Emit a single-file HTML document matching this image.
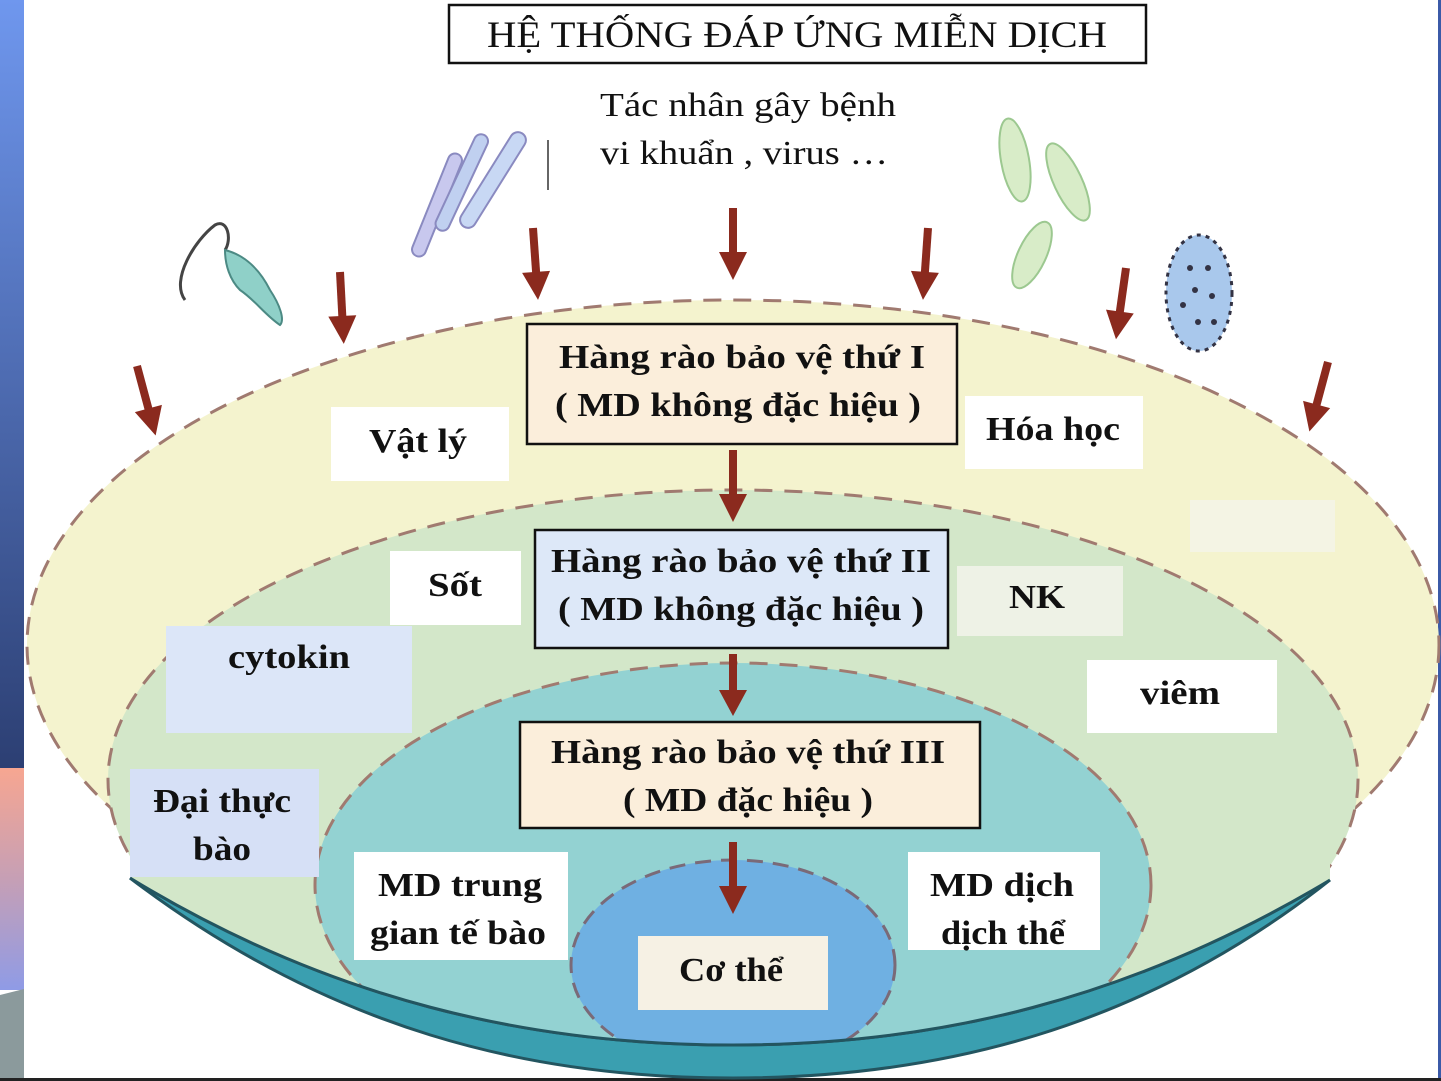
<!DOCTYPE html>
<html><head><meta charset="utf-8"><style>
html,body{margin:0;padding:0;background:#fff;}
svg{display:block;}
text{font-family:"Liberation Serif",serif;fill:#111;}
.b{font-weight:bold;font-size:34px;}
</style></head><body>
<svg width="1441" height="1081" viewBox="0 0 1441 1081" xmlns="http://www.w3.org/2000/svg">
<defs>
<linearGradient id="lb" x1="0" y1="0" x2="0" y2="1"><stop offset="0" stop-color="#6f97ee"/><stop offset="1" stop-color="#2c3f73"/></linearGradient>
<linearGradient id="lp" x1="0" y1="0" x2="0" y2="1"><stop offset="0" stop-color="#f7a691"/><stop offset="0.5" stop-color="#c69fb5"/><stop offset="1" stop-color="#8f9be6"/></linearGradient>
<clipPath id="dish"><path d="M0,0 H1441 V880 H1330 C1130,1000 936,1045 733,1045 C530,1045 330,1000 130,878 H0 Z"/></clipPath>
<g id="ar60"><rect x="-4" y="0" width="8" height="40" fill="#8b2a1e"/><polygon points="-14,36 14,36 0,62" fill="#8b2a1e"/></g>
<g id="ar70"><rect x="-4" y="0" width="8" height="48" fill="#8b2a1e"/><polygon points="-14,44 14,44 0,72" fill="#8b2a1e"/></g>
</defs>
<rect x="0" y="0" width="1441" height="1081" fill="#fff"/>
<rect x="0" y="0" width="24" height="768" fill="url(#lb)"/>
<rect x="0" y="768" width="24" height="222" fill="url(#lp)"/>
<path d="M0,995 L24,989 V1081 H0 Z" fill="#8b9a9c"/>
<rect x="1438" y="0" width="3" height="1081" fill="#3b5aa8"/>
<rect x="0" y="1078" width="1441" height="3" fill="#222"/>

<path d="M130,878 C330,1030 530,1078 733,1078 C936,1078 1140,1030 1330,880 C1130,1000 936,1045 733,1045 C530,1045 330,1000 130,878 Z" fill="#3a9fb0" stroke="#235560" stroke-width="3"/>

<g clip-path="url(#dish)">
<ellipse cx="733" cy="645" rx="706" ry="345" fill="#f4f3ce" stroke="#a07a70" stroke-width="3" stroke-dasharray="18,12"/>
<ellipse cx="733" cy="780" rx="625" ry="290" fill="#d3e7c9" stroke="#a07a70" stroke-width="3" stroke-dasharray="18,12"/>
<rect x="132" y="800" width="1198" height="280" fill="#d3e7c9"/>
<ellipse cx="733" cy="885" rx="418" ry="222" fill="#93d2d2" stroke="#a07a70" stroke-width="3" stroke-dasharray="18,12"/>
<ellipse cx="733" cy="965" rx="162" ry="105" fill="#6fb0e2" stroke="#7a6a78" stroke-width="3" stroke-dasharray="16,10"/>
</g>
<path d="M130,878 C330,1000 530,1045 733,1045 C936,1045 1130,1000 1330,880" fill="none" stroke="#235560" stroke-width="3"/>
<rect x="1190" y="500" width="145" height="52" fill="#f4f4e4"/>

<rect x="449" y="5" width="697" height="58" fill="#fff" stroke="#111" stroke-width="2.5"/>
<text x="797" y="47" font-size="37" text-anchor="middle" textLength="620" lengthAdjust="spacingAndGlyphs">HỆ THỐNG ĐÁP ỨNG MIỄN DỊCH</text>
<text x="600" y="116" font-size="34" textLength="296" lengthAdjust="spacingAndGlyphs" fill="#2a1a3a">Tác nhân gây bệnh</text>
<text x="600" y="164" font-size="34" textLength="288" lengthAdjust="spacingAndGlyphs" fill="#2a1a3a">vi khuẩn , virus …</text>

<path d="M185,300 C170,280 195,240 215,225 C228,218 232,240 225,250" fill="none" stroke="#444" stroke-width="3"/>
<path d="M225,250 C245,255 260,270 270,290 C280,305 285,320 280,325 C265,315 255,300 240,290 C230,280 225,265 225,250 Z" fill="#8fd0c8" stroke="#4c8a84" stroke-width="2"/>
<g fill="#c8c8ee" stroke="#8a8ac0" stroke-width="2">
<rect x="430" y="150" width="14" height="110" rx="7" transform="rotate(22 437 205)"/>
<rect x="455" y="130" width="14" height="105" rx="7" transform="rotate(25 462 182)" fill="#c0d0f0"/>
<rect x="485" y="125" width="16" height="110" rx="8" transform="rotate(32 493 180)" fill="#c8d8f4"/>
</g>
<line x1="548" y1="140" x2="548" y2="190" stroke="#666" stroke-width="2"/>
<g fill="#d8ecc8" stroke="#9cc890" stroke-width="2">
<ellipse cx="1015" cy="160" rx="14" ry="42" transform="rotate(-10 1015 160)"/>
<ellipse cx="1068" cy="182" rx="14" ry="42" transform="rotate(-25 1068 182)"/>
<ellipse cx="1032" cy="255" rx="14" ry="36" transform="rotate(25 1032 255)"/>
</g>
<ellipse cx="1199" cy="293" rx="33" ry="58" fill="#a9c8ec" stroke="#334" stroke-width="3" stroke-dasharray="4,5"/>
<g fill="#334"><circle cx="1190" cy="268" r="3"/><circle cx="1208" cy="268" r="3"/><circle cx="1195" cy="290" r="3"/><circle cx="1212" cy="296" r="3"/><circle cx="1183" cy="305" r="3"/><circle cx="1198" cy="322" r="3"/><circle cx="1214" cy="322" r="3"/></g>

<use href="#ar70" transform="translate(137,366) rotate(-15)"/>
<use href="#ar70" transform="translate(340,272) rotate(-3)"/>
<use href="#ar70" transform="translate(533,228) rotate(-4)"/>
<use href="#ar70" transform="translate(733,208)"/>
<use href="#ar70" transform="translate(928,228) rotate(4)"/>
<use href="#ar70" transform="translate(1126,268) rotate(8)"/>
<use href="#ar70" transform="translate(1328,362) rotate(15)"/>
<use href="#ar70" transform="translate(733,450)"/>
<use href="#ar60" transform="translate(733,654)"/>
<use href="#ar70" transform="translate(733,842)"/>

<rect x="527" y="324" width="430" height="120" fill="#fbeedb" stroke="#111" stroke-width="2.5"/>
<text class="b" x="742" y="368" text-anchor="middle" textLength="366" lengthAdjust="spacingAndGlyphs">Hàng rào bảo vệ thứ I</text>
<text class="b" x="738" y="416" text-anchor="middle" textLength="366" lengthAdjust="spacingAndGlyphs">( MD không  đặc hiệu )</text>

<rect x="331" y="407" width="178" height="74" fill="#fff"/>
<text class="b" x="418" y="452" text-anchor="middle" textLength="98" lengthAdjust="spacingAndGlyphs">Vật lý</text>
<rect x="965" y="396" width="178" height="73" fill="#fff"/>
<text class="b" x="1053" y="440" text-anchor="middle" textLength="134" lengthAdjust="spacingAndGlyphs">Hóa học</text>

<rect x="535" y="530" width="413" height="118" fill="#dde8f8" stroke="#111" stroke-width="2.5"/>
<text class="b" x="741" y="572" text-anchor="middle" textLength="380" lengthAdjust="spacingAndGlyphs">Hàng rào bảo vệ thứ II</text>
<text class="b" x="741" y="620" text-anchor="middle" textLength="366" lengthAdjust="spacingAndGlyphs">( MD không  đặc hiệu )</text>

<rect x="390" y="551" width="131" height="74" fill="#fff"/>
<text class="b" x="455" y="596" text-anchor="middle" textLength="54" lengthAdjust="spacingAndGlyphs">Sốt</text>
<rect x="957" y="566" width="166" height="70" fill="#eef2e6"/>
<text class="b" x="1037" y="608" text-anchor="middle" textLength="56" lengthAdjust="spacingAndGlyphs">NK</text>
<rect x="166" y="626" width="246" height="107" fill="#dce6f8"/>
<text class="b" x="289" y="668" text-anchor="middle" textLength="122" lengthAdjust="spacingAndGlyphs">cytokin</text>
<rect x="1087" y="660" width="190" height="73" fill="#fff"/>
<text class="b" x="1180" y="704" text-anchor="middle" textLength="80" lengthAdjust="spacingAndGlyphs">viêm</text>

<rect x="520" y="722" width="460" height="106" fill="#fbeedb" stroke="#111" stroke-width="2.5"/>
<text class="b" x="748" y="763" text-anchor="middle" textLength="394" lengthAdjust="spacingAndGlyphs">Hàng rào bảo vệ thứ III</text>
<text class="b" x="748" y="811" text-anchor="middle" textLength="250" lengthAdjust="spacingAndGlyphs">( MD đặc hiệu )</text>

<rect x="130" y="769" width="189" height="108" fill="#d6e0f6"/>
<text class="b" x="222" y="812" text-anchor="middle" textLength="138" lengthAdjust="spacingAndGlyphs">Đại thực</text>
<text class="b" x="222" y="860" text-anchor="middle" textLength="58" lengthAdjust="spacingAndGlyphs">bào</text>

<rect x="354" y="852" width="214" height="108" fill="#fff"/>
<text class="b" x="460" y="896" text-anchor="middle" textLength="164" lengthAdjust="spacingAndGlyphs">MD trung</text>
<text class="b" x="458" y="944" text-anchor="middle" textLength="176" lengthAdjust="spacingAndGlyphs">gian tế bào</text>
<rect x="908" y="852" width="192" height="98" fill="#fff"/>
<text class="b" x="1002" y="896" text-anchor="middle" textLength="144" lengthAdjust="spacingAndGlyphs">MD dịch</text>
<text class="b" x="1003" y="944" text-anchor="middle" textLength="124" lengthAdjust="spacingAndGlyphs">dịch thể</text>

<rect x="638" y="936" width="190" height="74" fill="#f6f1e4"/>
<text class="b" x="731" y="981" text-anchor="middle" textLength="104" lengthAdjust="spacingAndGlyphs">Cơ thể</text>
</svg>
</body></html>
